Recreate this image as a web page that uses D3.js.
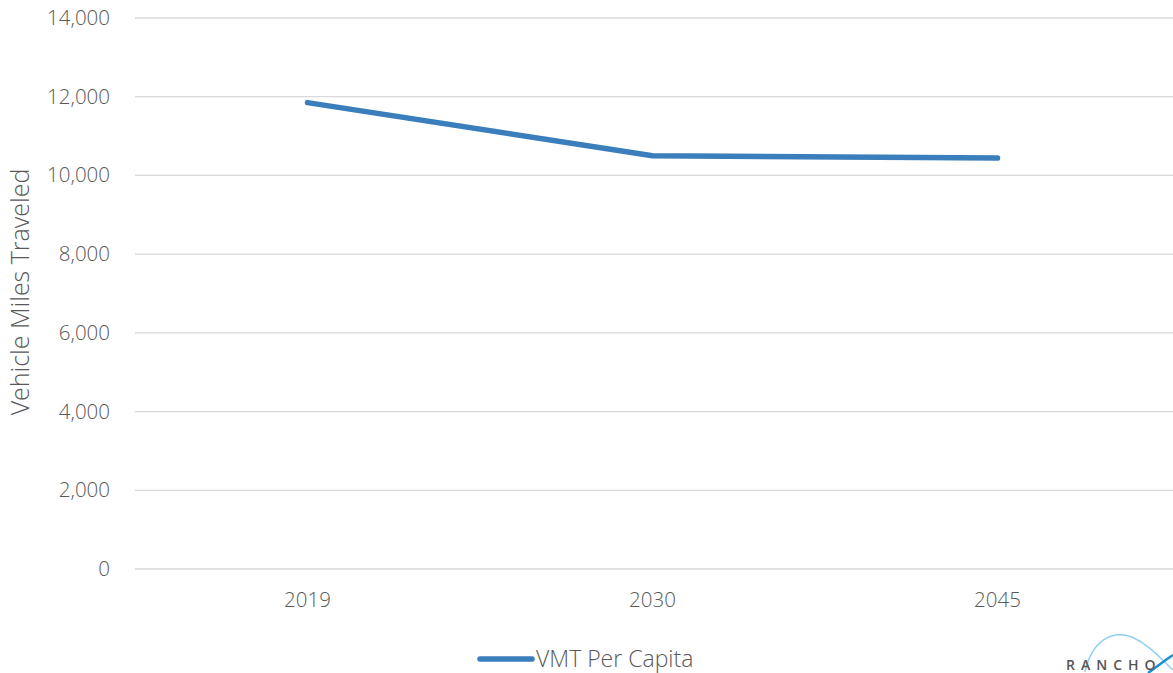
<!DOCTYPE html>
<html><head><meta charset="utf-8">
<script src="https://cdn.jsdelivr.net/npm/d3@7"></script>
<style>body{margin:0;background:#fff;}svg{display:block;font-family:"Open Sans","Noto Sans",sans-serif;}</style>
</head><body>
<svg id="c" width="1173" height="673"></svg>
<script>
const categories = ["2019", "2030", "2045"];
const vmtPerCapita = [11850, 10500, 10440];
const yTicks = [0, 2000, 4000, 6000, 8000, 10000, 12000, 14000];
const seriesName = "VMT Per Capita";
const yTitle = "Vehicle Miles Traveled";

(function () {
const svg = d3.select("#c");
const pLeft = 135, pRight = 1170, pTop = 18, pBottom = 569;
const x = d3.scaleBand().domain(categories).range([pLeft, pRight]);
const y = d3.scaleLinear().domain([0, 14000]).range([pBottom, pTop]);
const ff = '"Open Sans","Noto Sans",sans-serif';

// gridlines
svg.append("g").selectAll("line").data(yTicks).join("line")
  .attr("x1", pLeft).attr("x2", 1173)
  .attr("y1", d => y(d)).attr("y2", d => y(d))
  .attr("stroke", "#d9d9d9").attr("stroke-width", 1.3);

// y axis labels
const yAxis = d3.axisLeft(y).tickValues(yTicks).tickFormat(d3.format(",")).tickSize(0).tickPadding(0);
const ga = svg.append("g").attr("transform", `translate(110,0)`).call(yAxis);
ga.select(".domain").remove();
ga.selectAll("text").attr("fill", "#595959").style("font-size", "20.5px").style("font-weight", "300").style("font-family", ff);

// x axis labels
const xAxis = d3.axisBottom(x).tickSize(0).tickPadding(0);
const gx = svg.append("g").attr("transform", `translate(0,592)`).call(xAxis);
gx.select(".domain").remove();
gx.selectAll("text").attr("fill", "#595959").style("font-size", "20.5px").style("font-weight", "300").style("font-family", ff);

// y title
svg.append("text").attr("transform", "translate(29,292) rotate(-90)")
  .attr("text-anchor", "middle").attr("fill", "#595959").style("font-size", "25px").style("font-weight", "300").text(yTitle);

// line
const line = d3.line().x((d, i) => x(categories[i]) + x.bandwidth() / 2).y(d => y(d));
svg.append("path").datum(vmtPerCapita).attr("d", line)
  .attr("fill", "none").attr("stroke", "#3a7ebb").attr("stroke-width", 5.5)
  .attr("stroke-linecap", "round").attr("stroke-linejoin", "round");

// legend
svg.append("line").attr("x1", 480).attr("x2", 532).attr("y1", 659).attr("y2", 659)
  .attr("stroke", "#3a7ebb").attr("stroke-width", 5.5).attr("stroke-linecap", "round");
svg.append("text").attr("x", 536).attr("y", 667).attr("fill", "#595959").style("font-size", "23px").style("font-weight", "300").text(seriesName);

// logo
const logo = svg.append("g");
logo.append("path").attr("d", "M1085,672 C1092,640 1112,630 1132,637 C1150,645 1162,660 1173,670")
  .attr("fill", "none").attr("stroke", "#8fd0ee").attr("stroke-width", 1.5);
logo.append("path").attr("d", "M1148,673 C1158,666 1165,660 1173,655")
  .attr("fill", "none").attr("stroke", "#1a90d0").attr("stroke-width", 2.5);
logo.append("text").attr("x", 1066).attr("y", 670).attr("fill", "#555").style("font-size", "14px")
  .style("font-weight", "600").style("letter-spacing", "6px").text("RANCHO");
})();
</script>
</body></html>
